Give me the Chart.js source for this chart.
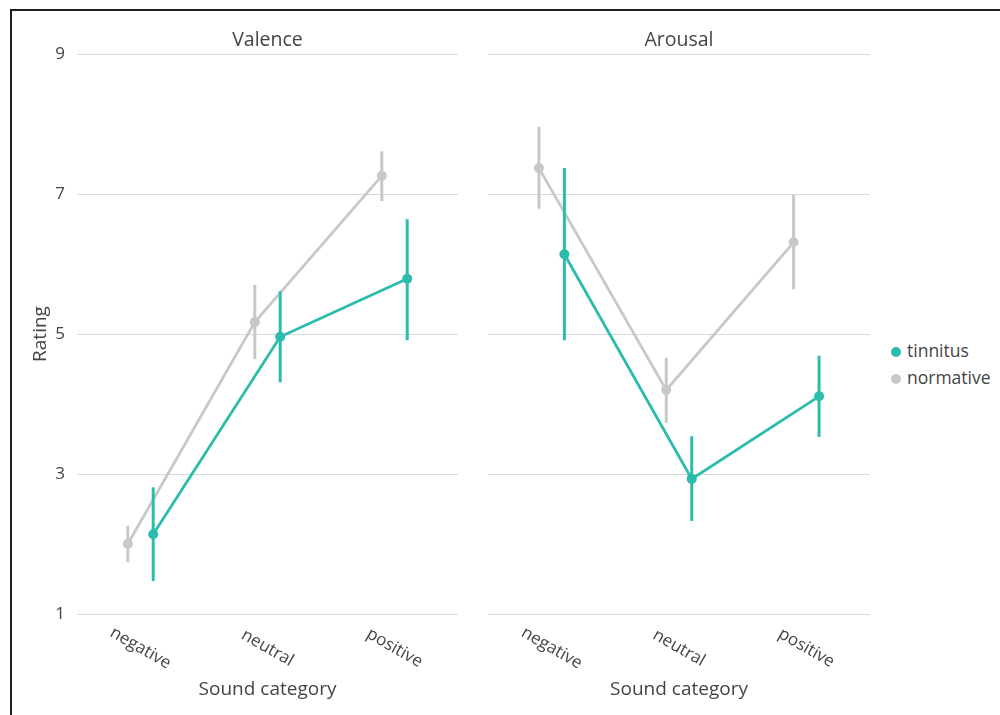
<!DOCTYPE html>
<html>
<head>
<meta charset="utf-8">
<script src="https://cdn.jsdelivr.net/npm/chart.js@4.4.1/dist/chart.umd.min.js"></script>
<style>
  body { margin: 0; background: #fff; font-family: 'Open Sans', sans-serif; }
  #wrap { position: relative; width: 1000px; height: 715px; overflow: hidden; }
  #frame { position: absolute; left: 10px; top: 9px; width: 990px; height: 706px;
           border-top: 2px solid #1e1e1e; border-left: 2px solid #1e1e1e; }
  canvas { position: absolute; }
  #c1 { left: 12px; top: 12px; }
  #c2 { left: 476px; top: 12px; }
  #legend { position: absolute; left: 891px; top: 337px; font-size: 17.5px; color: #444; }
  #legend div { height: 27px; line-height: 26px; white-space: nowrap; }
  #legend span { display: inline-block; width: 10px; height: 10px; border-radius: 50%;
                 margin-right: 6px; vertical-align: 0px; }
</style>
</head>
<body>
<div id="wrap">
  <div id="frame"></div>
  <canvas id="c1" width="458" height="703"></canvas>
  <canvas id="c2" width="406" height="703"></canvas>
  <div id="legend">
    <div><span style="background:#2cbcae"></span>tinnitus</div>
    <div><span style="background:#c8c8c8"></span>normative</div>
  </div>
</div>
<script>
const categories = ['negative', 'neutral', 'positive'];
const yTicks = [1, 3, 5, 7, 9];

// Valence
const valenceTinnitus = [2.14, 4.96, 5.79];
const valenceTinnitusLo = [1.47, 4.31, 4.91];
const valenceTinnitusHi = [2.81, 5.61, 6.64];
const valenceNormative = [2.00, 5.17, 7.26];
const valenceNormativeLo = [1.74, 4.64, 6.90];
const valenceNormativeHi = [2.26, 5.70, 7.61];

// Arousal
const arousalTinnitus = [6.14, 2.93, 4.11];
const arousalTinnitusLo = [4.91, 2.33, 3.53];
const arousalTinnitusHi = [7.37, 3.54, 4.69];
const arousalNormative = [7.37, 4.20, 6.31];
const arousalNormativeLo = [6.79, 3.73, 5.64];
const arousalNormativeHi = [7.96, 4.66, 6.99];

const TEAL = '#2cbcae';
const GREY = '#c8c8c8';
const TEXT = '#444';
const DODGE = 0.1;

Chart.defaults.font.family = "'Open Sans', sans-serif";
Chart.defaults.color = TEXT;

// error bars drawn just before each dataset's line/points
const errorBars = {
    id: 'errorBars',
    beforeDatasetDraw(chart, args) {
        const ds = chart.data.datasets[args.index];
        const y = chart.scales.y;
        const ctx = chart.ctx;
        ctx.save();
        ctx.strokeStyle = ds.borderColor;
        ctx.lineWidth = 3;
        args.meta.data.forEach((pt, i) => {
            ctx.beginPath();
            ctx.moveTo(pt.x, y.getPixelForValue(ds.errLo[i]));
            ctx.lineTo(pt.x, y.getPixelForValue(ds.errHi[i]));
            ctx.stroke();
        });
        ctx.restore();
    }
};

// slanted category labels, centred under each category
const slantLabels = {
    id: 'slantLabels',
    afterDraw(chart) {
        const x = chart.scales.x;
        const ctx = chart.ctx;
        ctx.save();
        ctx.font = "17px 'Open Sans'";
        ctx.fillStyle = TEXT;
        ctx.textAlign = 'center';
        ctx.textBaseline = 'middle';
        categories.forEach((c, i) => {
            ctx.save();
            ctx.translate(x.getPixelForValue(i), chart.chartArea.bottom + 34);
            ctx.rotate(Math.PI / 6);
            ctx.fillText(c, 0, 0);
            ctx.restore();
        });
        ctx.restore();
    }
};

function dodged(values, off) {
    return values.map((v, i) => ({ x: i + off, y: v }));
}

function makePanel(canvasId, title, tin, tinLo, tinHi, nor, norLo, norHi, first) {
    return new Chart(document.getElementById(canvasId), {
        type: 'line',
        data: {
            datasets: [
                {
                    label: 'tinnitus',
                    data: dodged(tin, DODGE),
                    errLo: tinLo, errHi: tinHi,
                    borderColor: TEAL, backgroundColor: TEAL,
                    borderWidth: 2.8, pointRadius: 5, pointBorderWidth: 0, pointHoverRadius: 5
                },
                {
                    label: 'normative',
                    data: dodged(nor, -DODGE),
                    errLo: norLo, errHi: norHi,
                    borderColor: GREY, backgroundColor: GREY,
                    borderWidth: 2.8, pointRadius: 5, pointBorderWidth: 0, pointHoverRadius: 5
                }
            ]
        },
        options: {
            responsive: false,
            animation: false,
            devicePixelRatio: 1,
            layout: { padding: { left: first ? 0 : 12, right: 12, top: 0, bottom: 0 } },
            scales: {
                x: {
                    type: 'linear',
                    min: -0.5,
                    max: 2.5,
                    grid: { display: false },
                    border: { display: false },
                    ticks: { display: false },
                    title: { display: true, text: 'Sound category', font: { size: 19 }, color: TEXT,
                             padding: { top: 0, bottom: 14 } },
                    afterFit: (s) => { s.height = 101; }
                },
                y: {
                    min: 1,
                    max: 9,
                    afterBuildTicks: (s) => { s.ticks = yTicks.map(v => ({ value: v })); },
                    grid: { color: '#d9d9d9', lineWidth: 1, drawTicks: false },
                    border: { display: false },
                    ticks: { display: first, padding: 12, font: { size: 17 }, color: TEXT },
                    title: { display: first, text: 'Rating', font: { size: 19 }, color: TEXT,
                             padding: { top: 17, bottom: 0 } },
                    afterFit: (s) => { s.width = first ? 65 : 0; }
                }
            },
            plugins: {
                legend: { display: false },
                tooltip: { enabled: false },
                title: {
                    display: true,
                    text: title,
                    fullSize: false,
                    font: { size: 19.5, weight: 'normal' },
                    color: TEXT,
                    padding: { top: 17, bottom: 1.6 }
                }
            }
        },
        plugins: [errorBars, slantLabels]
    });
}

makePanel('c1', 'Valence', valenceTinnitus, valenceTinnitusLo, valenceTinnitusHi,
          valenceNormative, valenceNormativeLo, valenceNormativeHi, true);
makePanel('c2', 'Arousal', arousalTinnitus, arousalTinnitusLo, arousalTinnitusHi,
          arousalNormative, arousalNormativeLo, arousalNormativeHi, false);
</script>
</body>
</html>
